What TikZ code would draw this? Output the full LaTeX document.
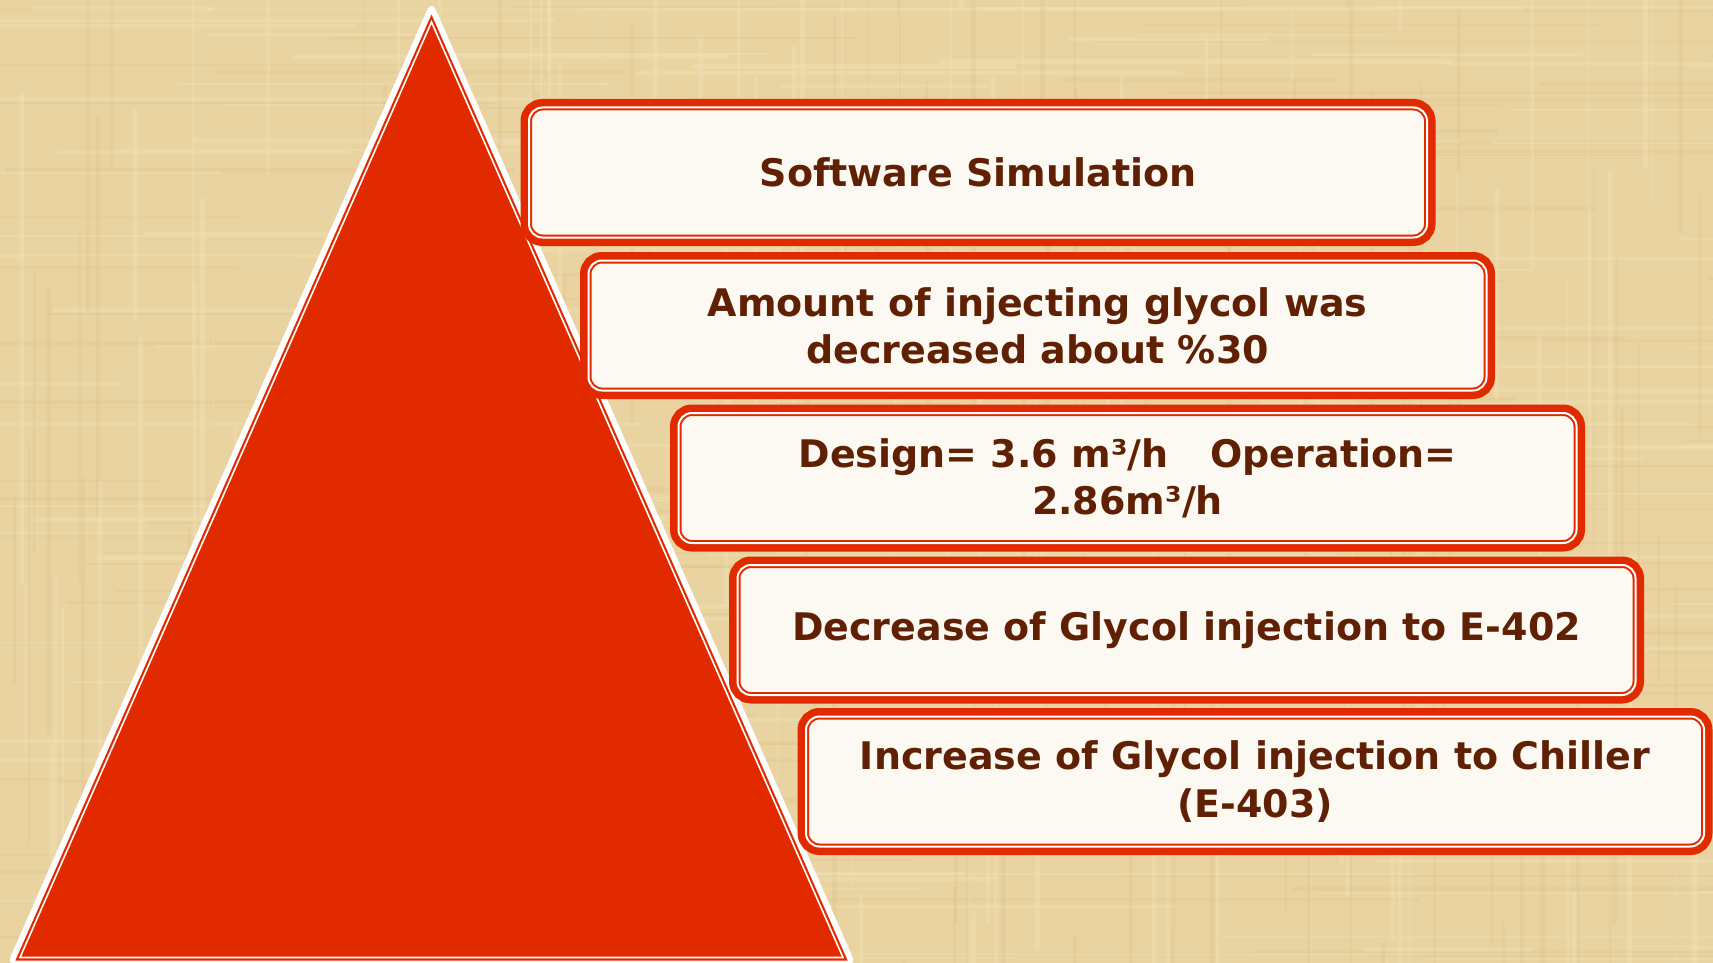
\documentclass[tikz,border=0pt]{standalone}
\usepackage{fontspec}
\newfontfamily\boxfont{DejaVu Sans}[BoldFont={DejaVu Sans Bold}]
\definecolor{paper}{RGB}{233,211,160}
\definecolor{paperlight}{RGB}{246,232,196}
\definecolor{paperdark}{RGB}{214,186,128}
\definecolor{pyrred}{RGB}{226,42,0}
\definecolor{cream}{RGB}{252,249,242}
\definecolor{ink}{RGB}{96,32,4}
\begin{document}
\begin{tikzpicture}[x=0.75pt,y=-0.75pt,
  stepbox/.style={rectangle, rounded corners=10.125pt,
    minimum width=673.5pt, minimum height=97.5pt, inner sep=0pt,
    fill=cream, draw=pyrred, line width=4.5pt,
    preaction={draw=pyrred, line width=12.75pt},
    postaction={draw=white, line width=1.5pt},
    align=center, text=ink,
    font={\boxfont\bfseries\fontsize{28.5}{35.5}\selectfont}}]
\useasboundingbox (0,0) rectangle (1713,963);

% woven paper background
\fill[paper] (0,0) rectangle (1713,963);
\pgfmathsetseed{42}
\foreach \i in {1,...,140}{
  \pgfmathsetmacro{\ya}{963*rnd}
  \pgfmathsetmacro{\xa}{1913*rnd-200}
  \pgfmathsetmacro{\len}{150+600*rnd}
  \pgfmathsetmacro{\th}{1+4*rnd}
  \fill[paperlight, opacity=0.3] (\xa,\ya) rectangle ++(\len,\th);
}
\foreach \i in {1,...,140}{
  \pgfmathsetmacro{\ya}{963*rnd}
  \pgfmathsetmacro{\xa}{1913*rnd-200}
  \pgfmathsetmacro{\len}{150+600*rnd}
  \pgfmathsetmacro{\th}{1+3*rnd}
  \fill[paperdark, opacity=0.2] (\xa,\ya) rectangle ++(\len,\th);
}
\foreach \i in {1,...,120}{
  \pgfmathsetmacro{\xa}{1713*rnd}
  \pgfmathsetmacro{\ya}{1163*rnd-200}
  \pgfmathsetmacro{\len}{100+400*rnd}
  \pgfmathsetmacro{\th}{1+4*rnd}
  \fill[paperdark, opacity=0.16] (\xa,\ya) rectangle ++(\th,\len);
}
\foreach \i in {1,...,120}{
  \pgfmathsetmacro{\xa}{1713*rnd}
  \pgfmathsetmacro{\ya}{1163*rnd-200}
  \pgfmathsetmacro{\len}{100+400*rnd}
  \pgfmathsetmacro{\th}{1+4*rnd}
  \fill[paperlight, opacity=0.25] (\xa,\ya) rectangle ++(\th,\len);
}

% pyramid: white rim with a softened tip, red line, thin white line, red body
\coordinate (rimapex) at (431.5,-0.1);
\coordinate (rimbl) at (6.2,966.5);
\coordinate (rimbr) at (856.8,966.5);
\fill[white, rounded corners=8.5pt] (rimapex) -- (rimbl) -- (rimbr) -- cycle;
\coordinate (apex) at (431.5,22);
\coordinate (bl) at (20,957.5);
\coordinate (br) at (843,957.5);
\filldraw[fill=pyrred, draw=pyrred, line width=4.5pt] (apex) -- (bl) -- (br) -- cycle;
\draw[white, line width=1.2pt] (apex) -- (bl) -- (br) -- cycle;

% stepped boxes
\node[stepbox] (sim) at (978,172.5) {Software Simulation};
\node[stepbox] (amount) at (1037.5,325.5) {Amount of injecting glycol was\\decreased about \%30};
\node[stepbox] (design) at (1127.5,478) {Design= 3.6 m³/h\hspace{1.1em}Operation=\\2.86m³/h};
\node[stepbox] (decrease) at (1186.5,630) {Decrease of Glycol injection to E-402};
\node[stepbox] (increase) at (1255,781.5) {Increase of Glycol injection to Chiller\\(E-403)};
\end{tikzpicture}
\end{document}
